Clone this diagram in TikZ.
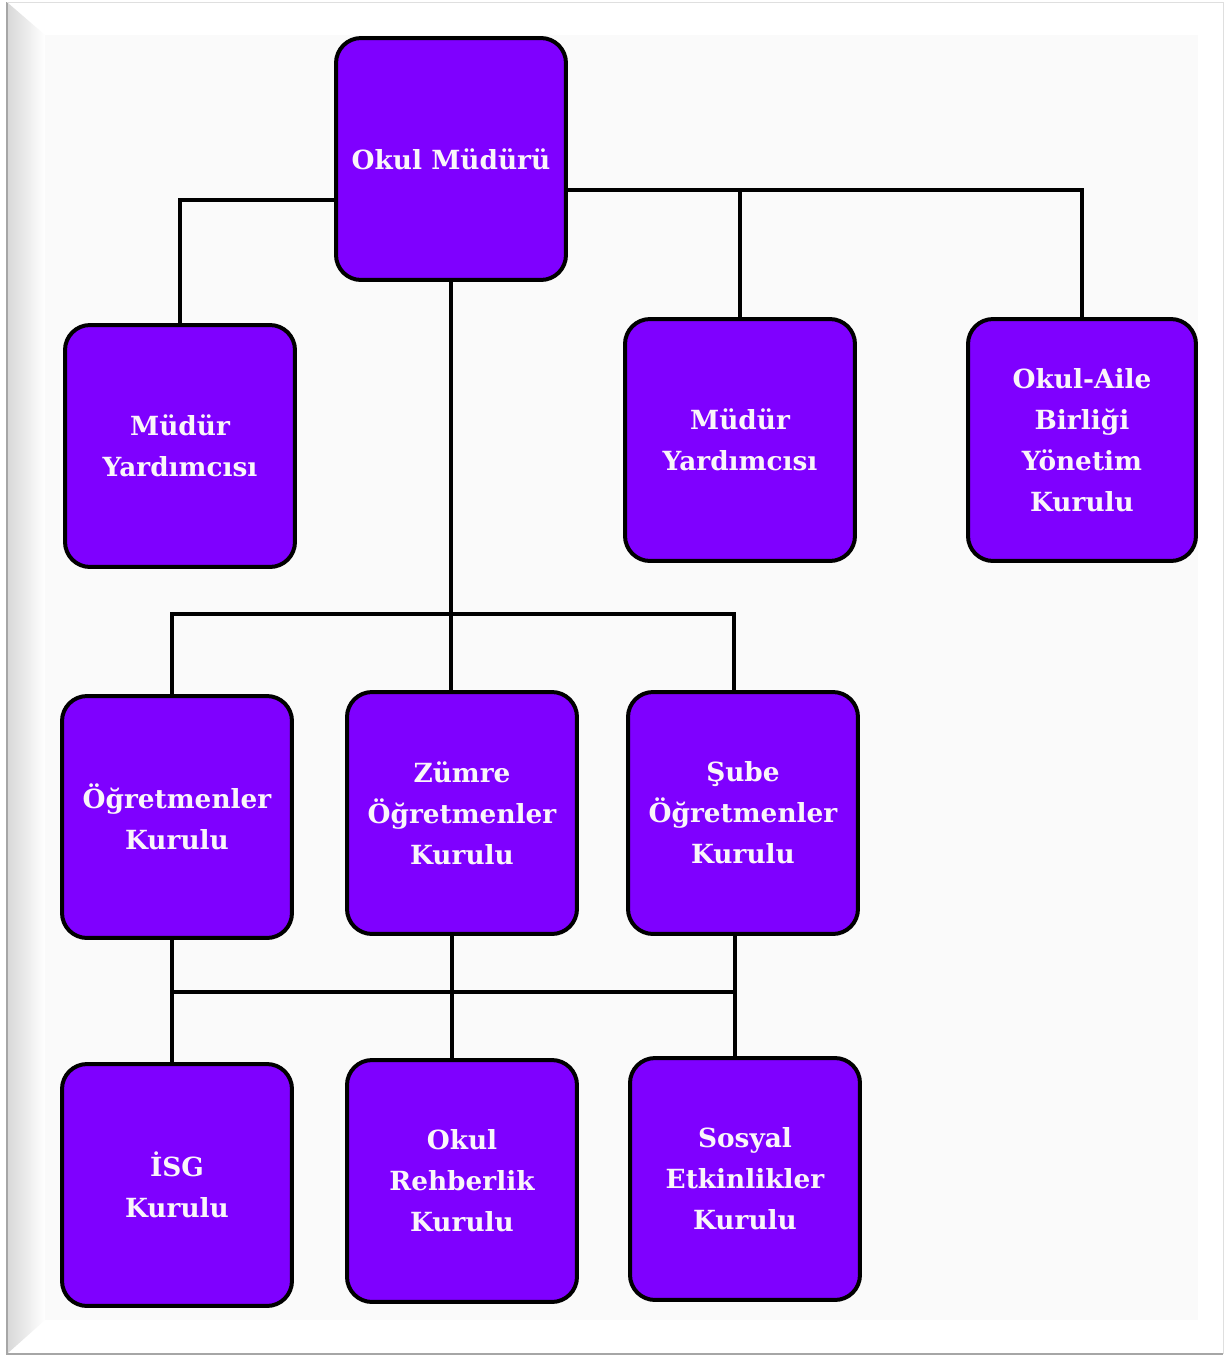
\documentclass[tikz,border=0pt]{standalone}
\usepackage{fontspec}
\setmainfont{DejaVu Serif}
\usepackage{xcolor}
\usepackage{tikz}
\usetikzlibrary{positioning, calc}
\definecolor{boxpurple}{HTML}{7F00FF}
\definecolor{pagebg}{HTML}{FAFAFA}

\begin{document}
\begin{tikzpicture}[
    x=0.02cm, y=-0.02cm,
    box/.style={draw=black, line width=0.08cm, rectangle, rounded corners=0.5cm, minimum width=4.6cm, minimum height=4.84cm, align=center, fill=boxpurple, text=white!96!violet, font=\fontsize{15}{23.3}\selectfont\bfseries},
    link/.style={line width=0.08cm, black}
]
% page frame
\useasboundingbox (0,0) rectangle (1227,1357);
\fill[white] (0,0) rectangle (1227,1357);
\fill[pagebg] (45,35) rectangle (1198,1320);
\shade[left color=gray!30, right color=white] (8,3) -- (45,35) -- (45,1320) -- (8,1353) -- cycle;
\draw[gray!70, line width=0.04cm] (7,2) -- (7,1354) -- (1223,1354);
\draw[gray!25, line width=0.02cm] (7,2) -- (1223,2) -- (1223,1354);

% top level
\node[box] (mudur) at (451,159) {Okul Müdürü};
\node[box] (yardimciA) at (180,446) {Müdür\\Yardımcısı};
\node[box] (yardimciB) at (740,440) {Müdür\\Yardımcısı};
\node[box, minimum width=4.56cm] (okulaile) at (1082,440) {Okul-Aile\\Birliği\\Yönetim\\Kurulu};

% councils
\node[box] (ogretmenler) at (177,817) {Öğretmenler\\Kurulu};
\node[box] (zumre) at (462,813) {Zümre\\Öğretmenler\\Kurulu};
\node[box] (sube) at (743,813) {Şube\\Öğretmenler\\Kurulu};

% committees
\node[box] (isg) at (177,1185) {İSG\\Kurulu};
\node[box] (rehberlik) at (462,1181) {Okul\\Rehberlik\\Kurulu};
\node[box] (sosyal) at (745,1179) {Sosyal\\Etkinlikler\\Kurulu};

\coordinate (rbus) at ($(mudur.east)+(0,31)$);
\coordinate (mbus) at ($(mudur.south)+(0,332)$);
\coordinate (bbus) at ($(ogretmenler.south)+(0,52)$);

\draw[link] ($(mudur.west)+(0,41)$) -| (yardimciA.north);
\draw[link] (rbus) -| (okulaile.north);
\draw[link] (yardimciB.north) -- (yardimciB.north |- rbus);

\draw[link] (mudur.south) -- (mudur.south |- zumre.north);
\draw[link] ([xshift=-0.1cm]ogretmenler.north) |- (mbus) -| ([xshift=-0.18cm]sube.north);

\draw[link] ($(ogretmenler.east)+(0,-6)$) -- ($(ogretmenler.east)+(0,-6)$ -| zumre.west);
\draw[link] ($(zumre.east)+(0,-13)$) -- ($(zumre.east)+(0,-13)$ -| sube.west);

\draw[link] ([xshift=-0.1cm]ogretmenler.south) -- ([xshift=-0.1cm]ogretmenler.south |- isg.north);
\draw[link] ([xshift=-0.2cm]zumre.south) -- ([xshift=-0.2cm]rehberlik.north);
\draw[link] ([xshift=-0.16cm]sube.south) -- ([xshift=-0.16cm]sube.south |- sosyal.north);
\draw[link] ([xshift=-0.1cm]bbus) -- ([xshift=-0.16cm]bbus -| sube.south);

\end{tikzpicture}
\end{document}
